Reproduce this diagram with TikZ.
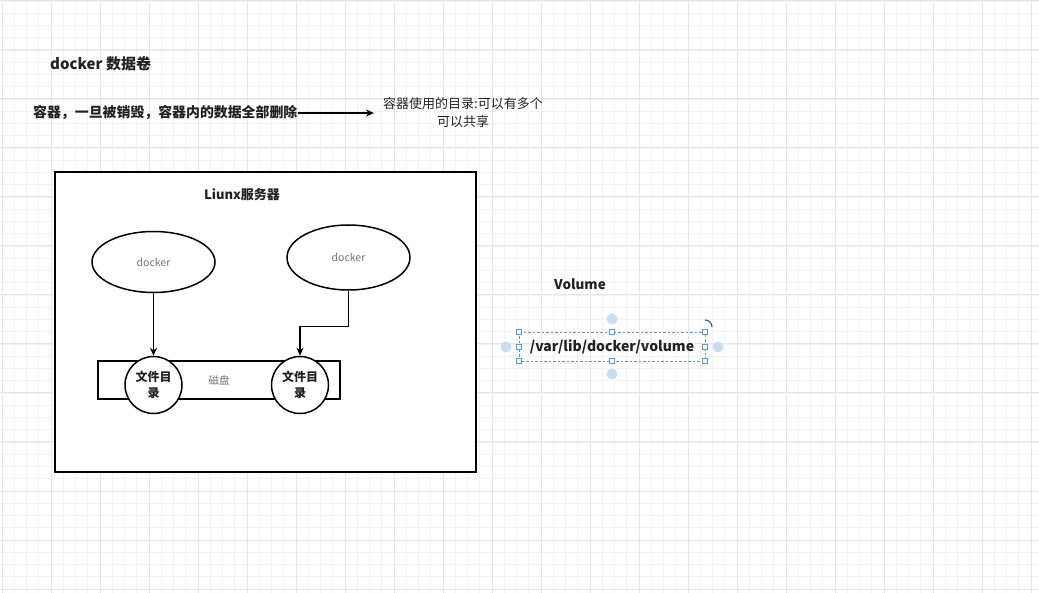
\documentclass[tikz,border=0pt]{standalone}
\usepackage{fontspec}
\setmainfont{Noto Sans CJK SC}
\usetikzlibrary{arrows.meta,shapes.geometric}
\definecolor{gminor}{HTML}{F3F3F3}
\definecolor{gmajor}{HTML}{E6E6E6}
\definecolor{txt}{HTML}{222222}
\definecolor{lighttxt}{HTML}{777777}
\definecolor{selblue}{HTML}{5B9BD5}
\definecolor{selfill}{HTML}{C9DDF3}
\tikzset{
  gridminor/.style={gminor, line width=0.8pt},
  gridmajor/.style={gmajor, line width=1pt},
  plaintext/.style={inner sep=0pt, text=txt},
  boxline/.style={draw=black, line width=1.5pt},
  dockell/.style={ellipse, boxline, fill=white, inner sep=0pt, text=lighttxt, font=\fontsize{10.5}{12}\selectfont},
  dircircle/.style={circle, boxline, fill=white, inner sep=0pt, minimum size=57pt, align=center, text=txt, font=\bfseries\fontsize{12}{16}\selectfont},
  arr/.style={line width=1.4pt, -{Stealth[length=8pt,width=7pt]}},
  handle/.style={draw=selblue, fill=white, line width=0.8pt, minimum size=5pt, inner sep=0pt},
  hcirc/.style={circle, fill=selfill, minimum size=11pt, inner sep=0pt},
}
\begin{document}
\begin{tikzpicture}[x=1pt,y=-1pt]
\useasboundingbox (0,0) rectangle (1039,593);
\fill[white] (0,0) rectangle (1039,593);
% grid
\foreach \k in {0,...,84}{\draw[gridminor] (2+12.25*\k,0) -- (2+12.25*\k,593);}
\foreach \k in {0,...,48}{\draw[gridminor] (0,1+12.25*\k) -- (1039,1+12.25*\k);}
\foreach \k in {0,...,21}{\draw[gridmajor] (2+49*\k,0) -- (2+49*\k,593);}
\foreach \k in {0,...,12}{\draw[gridmajor] (0,1+49*\k) -- (1039,1+49*\k);}

% top texts
\node[plaintext, anchor=west, font=\bfseries\fontsize{15}{17}\selectfont] (title) at (50,64) {docker 数据卷};
\node[plaintext, anchor=west, font=\bfseries\fontsize{13.9}{16}\selectfont] (lead) at (33,113) {容器，一旦被销毁，容器内的数据全部删除};
\node[plaintext, align=center, font=\fontsize{13}{18}\selectfont] (note) at (463,113) {容器使用的目录:可以有多个\\可以共享};
\draw[line width=1.3pt, -{Stealth[length=8pt,width=7pt]}, shorten >=9pt] (lead.east) -- (note.west);

% server box
\node[boxline, fill=white, minimum width=421pt, minimum height=300pt, inner sep=0pt] (server) at (265.5,322) {};
\node[plaintext, font=\bfseries\fontsize{13}{16}\selectfont] (srvlabel) at (242,195) {Liunx服务器};

\node[dockell, minimum width=123pt, minimum height=61pt] (dock1) at (153.5,262) {docker};
\node[dockell, minimum width=123pt, minimum height=65pt] (dock2) at (348.5,257.5) {docker};

\node[boxline, fill=white, minimum width=242pt, minimum height=38pt, inner sep=0pt, text=lighttxt, font=\fontsize{10.5}{12}\selectfont] (disk) at (219,380) {磁盘};
\node[dircircle] (dir1) at (153.5,385) {文件目\\录};
\node[dircircle] (dir2) at (300,385) {文件目\\录};

\draw[arr] (dock1.south) -- (dir1.north);
\draw[arr] (dock2.south) -- ++(0,36) -| (dir2.north);

% volume
\node[plaintext, font=\bfseries\fontsize{13.5}{16}\selectfont] (vollabel) at (580,284) {Volume};
\node[plaintext, font=\bfseries\fontsize{14}{16}\selectfont] (volpath) at (612,347) {/var/lib/docker/volume};

% selection decorations
\draw[selblue, dashed, line width=0.8pt, dash pattern=on 2.5pt off 2pt] (519,332) rectangle (705,361);
\node[hcirc] (ht) at (612,319) {};
\node[hcirc] (hb) at (612,374) {};
\node[hcirc] (hl) at (506,347) {};
\node[hcirc] (hr) at (718,347) {};
\foreach \px/\py [count=\i] in {519/332,612/332,705/332,519/347,705/347,519/361,612/361,705/361}{
  \node[handle] (h\i) at (\px,\py) {};
}
\draw[selblue!60!black, line width=1.1pt] (705,320) arc[start angle=90, end angle=0, radius=7pt];
\end{tikzpicture}
\end{document}
